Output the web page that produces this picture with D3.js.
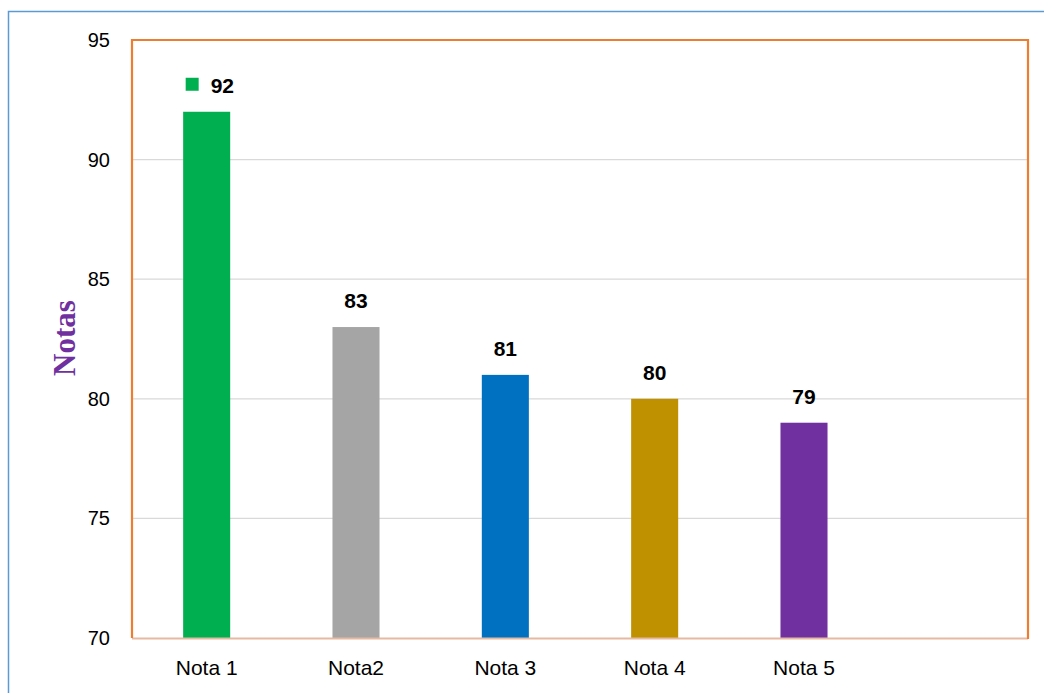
<!DOCTYPE html>
<html><head><meta charset="utf-8">
<script src="https://cdn.jsdelivr.net/npm/d3@7"></script>
<style>body{margin:0;background:#fff}svg{display:block}</style>
</head><body>
<svg id="c" width="1044" height="693"></svg>
<script>
const categories = ["Nota 1","Nota2","Nota 3","Nota 4","Nota 5",""];
const values = [92,83,81,80,79,null];
const colors = ["#00B050","#A5A5A5","#0070C0","#BF9000","#7030A0"];
const yTicks = [70,75,80,85,90,95];

const svg = d3.select("#c");
const m = {l:132, t:40, r:1028, b:638};
const x = d3.scaleBand().domain(categories.map((d,i)=>i)).range([m.l,m.r]).paddingInner(0.685).paddingOuter(0.3425);
const y = d3.scaleLinear().domain([70,95]).range([m.b,m.t]);
const font = "'Liberation Sans', Arial, sans-serif";

// outer border
svg.append("path").attr("d",`M8.5,693 L8.5,11.5 L1044,11.5`).attr("fill","none").attr("stroke","#5B9BD5").attr("stroke-width",1.5);

// gridlines
svg.append("g").selectAll("line").data(yTicks.filter(t=>t>70&&t<95)).join("line")
  .attr("x1",m.l).attr("x2",m.r).attr("y1",d=>y(d)).attr("y2",d=>y(d))
  .attr("stroke","#D9D9D9").attr("stroke-width",1.2);

// bars
const data = values.map((v,i)=>({v,i})).filter(d=>d.v!=null);
svg.append("g").selectAll("rect").data(data).join("rect")
  .attr("x",d=>x(d.i)).attr("width",x.bandwidth())
  .attr("y",d=>y(d.v)).attr("height",d=>y(70)-y(d.v))
  .attr("fill",d=>colors[d.i]);

// bottom axis line
svg.append("line").attr("x1",m.l).attr("x2",m.r).attr("y1",m.b+0.5).attr("y2",m.b+0.5).attr("stroke","#E6B9A0").attr("stroke-width",2);

// orange plot border
svg.append("path").attr("d",`M${m.l},${m.b} L${m.l},${m.t} L${m.r},${m.t} L${m.r},${m.b+1}`)
  .attr("fill","none").attr("stroke","#ED7D31").attr("stroke-width",2.2);

// y axis labels
const yAxis = d3.axisLeft(y).tickValues(yTicks).tickSize(0).tickPadding(0);
const ya = svg.append("g").attr("transform",`translate(${m.l-22},0)`).call(yAxis);
ya.select(".domain").remove();
ya.selectAll("text").attr("font-family",font).attr("font-size",20).attr("fill","#000");

// x axis labels
const xAxis = d3.axisBottom(x).tickFormat(i=>categories[i]).tickSize(0).tickPadding(0);
const xa = svg.append("g").attr("transform",`translate(0,${m.b+22})`).call(xAxis);
xa.select(".domain").remove();
xa.selectAll("text").attr("font-family",font).attr("font-size",21).attr("fill","#000");

// data labels
const lbl = svg.append("g");
data.forEach(d=>{
  const cx = x(d.i)+x.bandwidth()/2;
  const ty = y(d.v)-19;
  if(d.i===0){
    lbl.append("rect").attr("x",cx-21).attr("y",ty-15).attr("width",13).attr("height",13).attr("fill",colors[0]);
    lbl.append("text").attr("x",cx+4).attr("y",ty).attr("font-family",font).attr("font-weight","bold").attr("font-size",21).text(d.v);
  } else {
    lbl.append("text").attr("x",cx).attr("y",ty).attr("text-anchor","middle").attr("font-family",font).attr("font-weight","bold").attr("font-size",21).text(d.v);
  }
});

// y axis title
svg.append("text").attr("transform","translate(75,338) rotate(-90)").attr("text-anchor","middle")
  .attr("font-family","'Liberation Serif','Times New Roman',serif").attr("font-weight","bold").attr("font-size",31)
  .attr("fill","#7030A0").text("Notas");
</script>
</body></html>
